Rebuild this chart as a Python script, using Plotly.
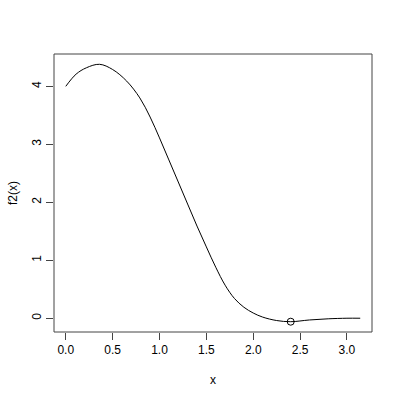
import plotly.graph_objects as go

# values
x_vals = [0, 0.11, 0.22, 0.36, 0.5, 0.65, 0.79, 0.9, 1.0, 1.1, 1.2, 1.3, 1.4,
          1.5, 1.6, 1.7, 1.8, 1.9, 2.0, 2.1, 2.25, 2.4, 2.6, 2.8, 3.0, 3.1416]
y_vals = [4.0, 4.21, 4.32, 4.38, 4.29, 4.09, 3.80, 3.47, 3.11, 2.73, 2.35, 1.97, 1.59,
          1.23, 0.88, 0.57, 0.34, 0.19, 0.09, 0.02, -0.04, -0.06, -0.03, -0.01, 0.0, 0.0]
min_x = [2.4]
min_y = [-0.06]
x_ticks = [0.0, 0.5, 1.0, 1.5, 2.0, 2.5, 3.0]
x_tick_labels = ["0.0", "0.5", "1.0", "1.5", "2.0", "2.5", "3.0"]
y_ticks = [0, 1, 2, 3, 4]
y_tick_labels = ["0", "1", "2", "3", "4"]

font = dict(family="Liberation Sans, Arial, sans-serif", size=12, color="black")

fig = go.Figure()
fig.add_trace(go.Scatter(x=x_vals, y=y_vals, mode="lines",
                         line=dict(color="black", width=1, shape="spline", smoothing=1.0),
                         hoverinfo="skip", showlegend=False))
fig.add_trace(go.Scatter(x=min_x, y=min_y, mode="markers",
                         marker=dict(symbol="circle-open", size=7, color="black",
                                     line=dict(width=1, color="black")),
                         showlegend=False))

fig.update_layout(
    width=400, height=400,
    margin=dict(l=54, r=28, t=54, b=68),
    paper_bgcolor="white", plot_bgcolor="white",
    font=font,
    xaxis=dict(range=[-0.1257, 3.2673], tickmode="array", tickvals=x_ticks,
               ticktext=x_tick_labels, ticks="outside", ticklen=7, tickwidth=1,
               tickcolor="#444", showgrid=False, zeroline=False, showline=False,
               tickfont=font),
    yaxis=dict(range=[-0.2376, 4.5576], tickmode="array", tickvals=y_ticks,
               ticktext=y_tick_labels, ticks="outside", ticklen=7, tickwidth=1,
               tickcolor="#444", tickangle=-90, showgrid=False, zeroline=False,
               showline=False, tickfont=font),
    shapes=[dict(type="rect", xref="paper", yref="paper", x0=0, x1=1, y0=0, y1=1,
                 line=dict(color="#444", width=1))],
    annotations=[
        dict(text="x", xref="paper", yref="paper", x=0.5, y=0, yshift=-48,
             showarrow=False, xanchor="center", yanchor="middle", font=font),
        dict(text="f2(x)", xref="paper", yref="paper", x=0, y=0.5, xshift=-41,
             textangle=-90, showarrow=False, xanchor="center", yanchor="middle", font=font),
    ],
)

fig.write_html("out.html", config={"displayModeBar": False},
               post_script="document.body.style.margin='0px';")
